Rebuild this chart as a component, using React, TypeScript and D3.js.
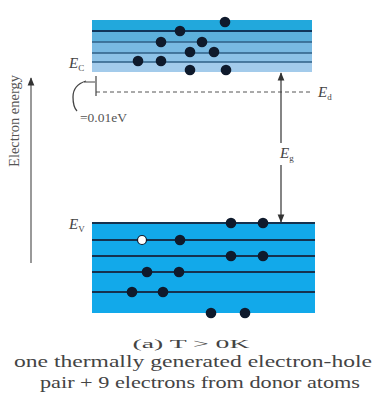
import React from 'react';
import * as d3 from 'd3';

// band geometry in arbitrary energy units (0 = bottom of valence band drawing)
const conductionLevels = [282, 271, 260, 251];
const conductionTop = 293;
const conductionBottom = 241;
const conductionStripes = ['#22a8dc', '#5cb0dc', '#79b9e2', '#8dc2e7', '#a3cbeb'];
const donorLevel = 221;
const valenceLevels = [73, 57, 41, 21];
const valenceTop = 90;
const valenceBottom = 0;

// electrons: [position along crystal, energy]
const conductionElectrons = [
  [133, 291], [88, 282], [69, 271], [110, 271], [98, 261],
  [122, 261], [46, 252], [69, 252], [98, 243], [134, 243],
];
const valenceElectrons = [
  [139, 90], [171, 90], [88, 73], [139, 57], [171, 57],
  [55, 41], [87, 41], [40, 21], [71, 21], [119, 0], [153, 0],
];
const holes = [[50, 73]];

const captionLines = [
  '(a) T > 0K',
  'one thermally generated electron-hole',
  'pair + 9 electrons from donor atoms',
];

const serif = '"Liberation Serif", "DejaVu Serif", serif';

export default function App() {
  const x = d3.scaleLinear().domain([0, 220]).range([92, 312]);
  const y = d3.scaleLinear().domain([0, 293]).range([313, 20]);
  const cbRight = x(220);
  const vbRight = x(223);

  // conduction stripes between levels
  const cbEdges = [conductionTop, ...conductionLevels, conductionBottom];
  const gx = 281;

  return (
    <svg width={378} height={397} style={{ position: 'absolute', left: 0, top: 0, background: '#fff' }}>
      <defs>
        <marker id="ah" viewBox="0 0 10 10" refX="9" refY="5" markerWidth="7" markerHeight="7" orient="auto-start-reverse">
          <path d="M0,1 L10,5 L0,9 z" fill="#333" />
        </marker>
      </defs>

      {/* conduction band */}
      {conductionStripes.map((c, i) => (
        <rect key={'cs' + i} x={x(0)} y={y(cbEdges[i])} width={cbRight - x(0)}
          height={y(cbEdges[i + 1]) - y(cbEdges[i])} fill={c} />
      ))}
      {conductionLevels.map((e, i) => (
        <line key={'cl' + i} x1={x(0)} x2={cbRight} y1={y(e)} y2={y(e)}
          stroke={i === 0 ? '#10355a' : '#2f5f86'} strokeWidth={i === 0 ? 2 : 1.5} />
      ))}

      {/* valence band */}
      <rect x={x(0)} y={y(valenceTop)} width={vbRight - x(0)} height={y(valenceBottom) - y(valenceTop)} fill="#12a9ea" />
      {[valenceTop, ...valenceLevels].map((e, i) => (
        <line key={'vl' + i} x1={x(0)} x2={vbRight} y1={y(e)} y2={y(e)} stroke="#15324f" strokeWidth={2} />
      ))}

      {/* donor level */}
      <line x1={96} x2={cbRight} y1={y(donorLevel)} y2={y(donorLevel)} stroke="#555" strokeWidth={1} strokeDasharray="4,3" />
      <line x1={96} x2={96} y1={y(conductionBottom) + 4} y2={y(donorLevel) + 4} stroke="#444" strokeWidth={1.2} />
      <path d="M86,81 Q73,85 73,97 Q73,107 77,111" fill="none" stroke="#444" strokeWidth={1.3} />
      <line x1={84} x2={95} y1={82} y2={82} stroke="#444" strokeWidth={1} />
      <text x={80} y={122} fontFamily={serif} fontSize={13.5} fill="#555">=0.01eV</text>

      {/* band gap arrow */}
      <line x1={gx} x2={gx} y1={143} y2={y(conductionBottom) + 1} stroke="#333" strokeWidth={1.2} markerEnd="url(#ah)" />
      <line x1={gx} x2={gx} y1={165} y2={y(valenceTop) - 1} stroke="#333" strokeWidth={1.2} markerEnd="url(#ah)" />

      {/* electrons and holes */}
      {[...conductionElectrons, ...valenceElectrons].map(([p, e], i) => (
        <circle key={'e' + i} cx={x(p)} cy={y(e)} r={5.3} fill="#0f1a2c" />
      ))}
      {holes.map(([p, e], i) => (
        <circle key={'h' + i} cx={x(p)} cy={y(e)} r={4.5} fill="#fff" stroke="#0f1a2c" strokeWidth={1.2} />
      ))}

      {/* labels */}
      <text x={69} y={68} fontFamily={serif} fontStyle="italic" fontSize={15} fill="#444">E<tspan fontSize={9} dy={3} fontStyle="normal">C</tspan></text>
      <text x={69} y={229} fontFamily={serif} fontStyle="italic" fontSize={15} fill="#444">E<tspan fontSize={9} dy={3} fontStyle="normal">V</tspan></text>
      <text x={318} y={97} fontFamily={serif} fontStyle="italic" fontSize={15} fill="#444">E<tspan fontSize={9} dy={3} fontStyle="normal">d</tspan></text>
      <text x={280} y={158} fontFamily={serif} fontStyle="italic" fontSize={15} fill="#444">E<tspan fontSize={9} dy={3} fontStyle="normal">g</tspan></text>

      {/* energy axis */}
      <line x1={31} x2={31} y1={263} y2={78} stroke="#555" strokeWidth={1.2} markerEnd="url(#ah)" />
      <text transform="translate(19,121) rotate(-90)" textAnchor="middle" fontFamily={serif} fontSize={14.5} fill="#555">Electron energy</text>

      {/* caption */}
      <text x={191} y={348} textAnchor="middle" fontFamily={serif} fontSize={13.5} fill="#444" textLength={117} lengthAdjust="spacingAndGlyphs">{captionLines[0]}</text>
      <text x={193} y={367} textAnchor="middle" fontFamily={serif} fontSize={16} fill="#444" textLength={358} lengthAdjust="spacingAndGlyphs">{captionLines[1]}</text>
      <text x={200} y={388} textAnchor="middle" fontFamily={serif} fontSize={16} fill="#444" textLength={320} lengthAdjust="spacingAndGlyphs">{captionLines[2]}</text>
    </svg>
  );
}
